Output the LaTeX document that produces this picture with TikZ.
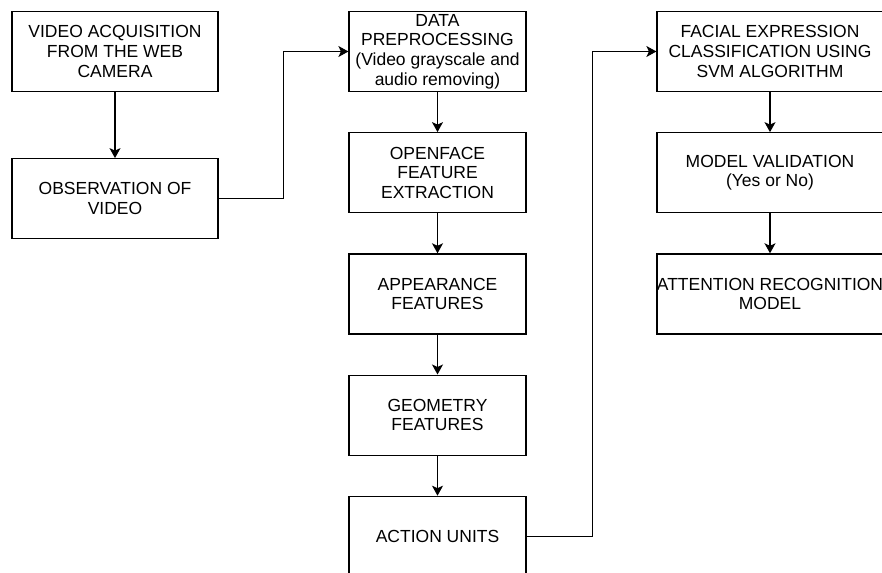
\documentclass[tikz,border=0pt]{standalone}
\usepackage{fontspec}
\setmainfont{Liberation Sans}
\usetikzlibrary{arrows.meta,positioning}

\begin{document}
\begin{tikzpicture}[x=1pt,y=1pt,node distance=40pt,
every node/.style = {shape=rectangle, draw, line width=1.2pt, align=center,
	font=\fontsize{17.5}{19.7}\selectfont, minimum height=80pt, inner sep=0pt},
colA/.style = {minimum width=206pt},
colB/.style = {minimum width=177pt},
colC/.style = {minimum width=226pt},
arr/.style = {line width=1.2pt, -{Stealth[length=10pt,width=11pt,inset=2.5pt]}}]
\useasboundingbox (0,0) rectangle (882,-572);
% first column
\node[colA] (acq) at (115,-51.5) {VIDEO ACQUISITION \\ FROM THE WEB \\ CAMERA};
\node[colA, below=66pt of acq] (obs) {OBSERVATION OF \\ VIDEO};
% second column
\node[colB] (prep) at (437.5,-51.5) {DATA \\ PREPROCESSING \\ (Video grayscale and \\ audio removing)};
\node[colB, below=of prep] (ofe) {OPENFACE \\ FEATURE \\ EXTRACTION};
\node[colB, below=of ofe] (app) {APPEARANCE \\ FEATURES};
\node[colB, below=of app] (geo) {GEOMETRY \\ FEATURES};
\node[colB, below=of geo] (au) {ACTION UNITS};
% third column
\node[colC] (svm) at (770,-51.5) {FACIAL EXPRESSION \\ CLASSIFICATION USING \\ SVM ALGORITHM};
\node[colC, below=of svm] (val) {MODEL VALIDATION \\ (Yes or No)};
\node[colC, below=of val] (att) {ATTENTION RECOGNITION \\ MODEL};
% connectors
\draw[arr] (acq) -- (obs);
\draw[arr] (obs.east) -- ++(65pt,0) |- (prep.west);
\draw[arr] (prep) -- (ofe);
\draw[arr] (ofe) -- (app);
\draw[arr] (app) -- (geo);
\draw[arr] (geo) -- (au);
\draw[arr] (au.east) -- ++(66pt,0) |- (svm.west);
\draw[arr] (svm) -- (val);
\draw[arr] (val) -- (att);
\end{tikzpicture}
\end{document}
